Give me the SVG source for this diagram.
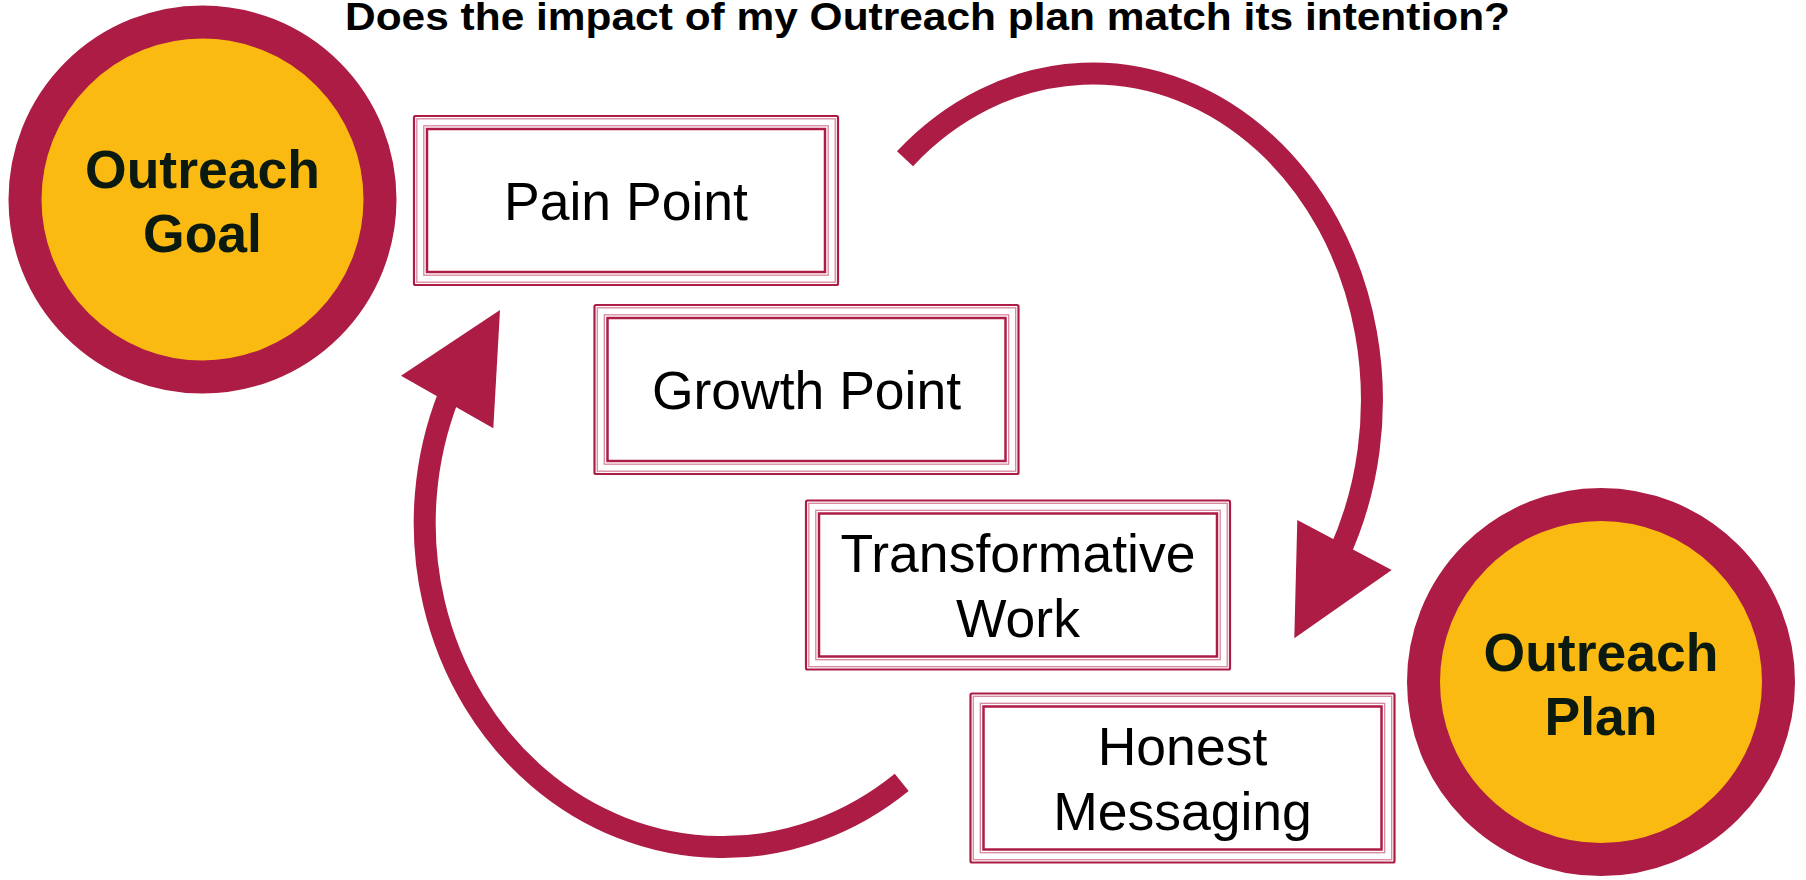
<svg xmlns="http://www.w3.org/2000/svg" width="1806" height="880" viewBox="0 0 1806 880">
  <style>
    .ring { fill: #FBBA12; stroke: #AC1C44; stroke-width: 33; }
    .ringText { font-family: "Liberation Sans", Arial, sans-serif; font-weight: bold; font-size: 53.5px; fill: #0B1A10; text-anchor: middle; }
    .boxText { font-family: "Liberation Sans", Arial, sans-serif; font-size: 53.5px; fill: #000; text-anchor: middle; }
    .title { font-family: "Liberation Sans", Arial, sans-serif; font-weight: bold; font-size: 39px; fill: #000; }
    .edgeDark { fill: none; stroke: #AC1C44; }
    .edgeLight { fill: none; stroke: #D6889D; stroke-width: 1.3; }
    .loop { fill: none; stroke: #AC1C44; stroke-width: 22; stroke-linecap: butt; }
    .head { fill: #AC1C44; }
  </style>
  <defs>
    <!-- triple-line frame used by every step box (426 x 171) -->
    <g id="frame">
      <rect x="0" y="0" width="426" height="171" fill="#fff"/>
      <rect class="edgeDark" x="1" y="1" width="424" height="169" rx="1.5" stroke-width="2.2"/>
      <rect class="edgeLight" x="3.8" y="3.8" width="418.4" height="163.4"/>
      <rect class="edgeLight" x="10.8" y="10.8" width="404.4" height="149.4"/>
      <rect class="edgeDark" x="14" y="14" width="398" height="143" stroke-width="2.5"/>
    </g>
  </defs>

  <rect width="1806" height="880" fill="#fff"/>

  <text class="title" x="345" y="30" textLength="1165" lengthAdjust="spacingAndGlyphs">Does the impact of my Outreach plan match its intention?</text>

  <!-- cycle arrows -->
  <g id="connectors">
    <path class="loop" d="M 905 158.7 A 279 326.5 0 0 1 1338.5 555"/>
    <polygon class="head" points="1297.3,520 1391.7,570 1294.3,638.3"/>
    <path class="loop" d="M 901.7 782.4 A 298.2 324 0 0 1 449 395"/>
    <polygon class="head" points="500,310 401,375.7 493.3,428.3"/>
  </g>

  <g id="outreach-goal">
    <circle class="ring" cx="202.5" cy="199.5" r="177.5"/>
    <text class="ringText" x="202.5" y="188">Outreach</text>
    <text class="ringText" x="202.5" y="252">Goal</text>
  </g>

  <g id="outreach-plan">
    <circle class="ring" cx="1601" cy="682" r="177.5"/>
    <text class="ringText" x="1601" y="670.5">Outreach</text>
    <text class="ringText" x="1601" y="734.5">Plan</text>
  </g>

  <g id="pain-point" transform="translate(413 115)">
    <use href="#frame"/>
    <text class="boxText" x="213" y="105">Pain Point</text>
  </g>

  <g id="growth-point" transform="translate(593.5 304)">
    <use href="#frame"/>
    <text class="boxText" x="213" y="105.3">Growth Point</text>
  </g>

  <g id="transformative-work" transform="translate(805 499.5)">
    <use href="#frame"/>
    <text class="boxText" x="213" y="72.2">Transformative</text>
    <text class="boxText" x="213" y="137.2">Work</text>
  </g>

  <g id="honest-messaging" transform="translate(969.5 692.5)">
    <use href="#frame"/>
    <text class="boxText" x="213" y="72.5">Honest</text>
    <text class="boxText" x="213" y="137.5">Messaging</text>
  </g>
</svg>
